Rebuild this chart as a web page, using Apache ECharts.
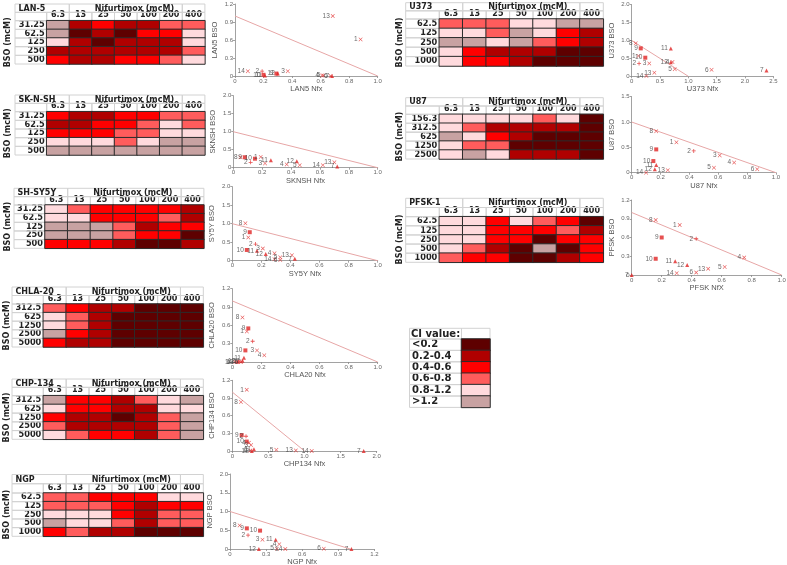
<!DOCTYPE html>
<html><head><meta charset="utf-8">
<script src="https://cdn.jsdelivr.net/npm/echarts@6/dist/echarts.min.js"></script>
<style>html,body{margin:0;padding:0;background:#fff;}#c{width:787px;height:565px;}</style>
</head><body><div id="c"></div>
<script>
// ================= DATA =================
const nfxDoses = ['6.3','13','25','50','100','200','400'];
const ciLabels = ['<0.2','0.2-0.4','0.4-0.6','0.6-0.8','0.8-1.2','>1.2'];
const ciColors = ['#5e0000','#b00000','#ff0000','#ff5c5c','#ffdadd','#c8a2a2'];

// CI class index per cell (0:<0.2 ... 5:>1.2), rows = BSO doses, cols = Nfx doses
const lan5Bso = ['31.25','62.5','125','250','500'];
const lan5CI = [[5,1,2,1,1,3,3],[5,0,1,0,2,2,4],[4,1,0,1,1,1,4],[1,1,1,1,1,1,3],[2,1,1,2,2,3,4]];
const sknshBso = ['31.25','62.5','125','250','500'];
const sknshCI = [[2,1,1,2,2,3,3],[1,1,2,2,3,4,3],[2,2,2,3,3,4,4],[4,4,4,3,4,5,5],[5,5,5,5,5,5,5]];
const shsy5yBso = ['31.25','62.5','125','250','500'];
const shsy5yCI = [[4,3,2,2,2,2,1],[4,4,2,2,2,3,1],[5,5,5,3,1,2,2],[5,5,5,3,2,2,0],[2,2,2,1,0,0,1]];
const chla20Bso = ['312.5','625','1250','2500','5000'];
const chla20CI = [[3,2,1,1,0,0,0],[4,3,1,0,0,0,0],[4,3,1,0,0,0,0],[5,2,1,0,0,0,0],[2,1,1,0,0,0,0]];
const chp134Bso = ['312.5','625','1250','2500','5000'];
const chp134CI = [[5,2,2,1,3,4,5],[4,2,2,1,1,4,4],[2,1,1,0,1,3,5],[3,1,1,1,1,3,5],[4,3,2,2,1,3,5]];
const ngpBso = ['62.5','125','250','500','1000'];
const ngpCI = [[3,3,2,2,2,4,4],[3,3,3,2,1,2,2],[4,4,4,2,1,3,3],[5,4,4,3,1,3,3],[2,3,1,1,0,0,0]];
const u373Bso = ['62.5','125','250','500','1000'];
const u373CI = [[3,3,3,4,4,5,5],[4,4,3,5,4,2,1],[5,5,4,5,3,2,1],[4,2,1,1,1,0,0],[4,2,2,1,0,0,0]];
const u87Bso = ['156.3','312.5','625','1250','2500'];
const u87CI = [[4,4,4,4,3,4,0],[4,3,1,1,1,1,0],[5,4,2,1,0,0,0],[4,3,3,0,0,0,0],[4,5,4,1,1,1,0]];
const pfskBso = ['62.5','125','250','500','1000'];
const pfskCI = [[4,4,2,4,3,2,0],[4,4,2,2,2,3,1],[4,4,2,2,0,2,2],[4,3,1,0,5,0,2],[3,2,2,0,0,1,2]];

// Isobologram points: [Nfx fraction, BSO fraction, label]
const lan5Pts = [[0.685,1.0,'13'],[0.88,0.61,'1'],[0.09,0.08,'14'],[0.19,0.08,'2'],[0.2,0.02,'10'],[0.21,0.01,'11'],[0.29,0.04,'9'],[0.3,0.04,'12'],[0.37,0.08,'3'],[0.61,0.01,'4'],[0.62,0.01,'5'],[0.67,0.0,'6'],[0.68,0.0,'7']];
const sknshPts = [[0.05,0.29,'8'],[0.08,0.29,'9'],[0.15,0.25,'10'],[0.19,0.3,'1'],[0.12,0.15,'2'],[0.22,0.12,'3'],[0.26,0.21,'11'],[0.37,0.09,'4'],[0.44,0.18,'12'],[0.46,0.07,'5'],[0.62,0.07,'14'],[0.7,0.15,'13'],[0.72,0.03,'7']];
const shsy5yPts = [[0.09,1.01,'8'],[0.12,0.77,'9'],[0.11,0.63,'1'],[0.16,0.45,'2'],[0.1,0.29,'10'],[0.17,0.27,'11'],[0.21,0.33,'3'],[0.23,0.18,'12'],[0.29,0.2,'4'],[0.29,0.04,'14'],[0.33,0.09,'5'],[0.33,0.02,'6'],[0.41,0.15,'13'],[0.43,0.05,'7']];
const chla20Pts = [[0.07,0.73,'8'],[0.11,0.55,'9'],[0.1,0.5,'1'],[0.14,0.34,'2'],[0.09,0.19,'10'],[0.17,0.19,'3'],[0.22,0.11,'4'],[0.08,0.07,'11'],[0.04,0.01,'12'],[0.03,0.0,'13'],[0.02,0.0,'14'],[0.05,0.01,'5'],[0.06,0.0,'6'],[0.07,0.02,'7']];
const chp134Pts = [[0.2,1.04,'1'],[0.12,0.83,'8'],[0.13,0.27,'9'],[0.19,0.25,'2'],[0.2,0.16,'10'],[0.26,0.1,'3'],[0.23,0.14,'4'],[0.3,0.03,'11'],[0.27,0.0,'12'],[0.25,0.01,'6'],[0.61,0.02,'5'],[0.88,0.01,'13'],[1.1,0.0,'14'],[1.82,0.0,'7']];
const ngpPts = [[0.08,0.63,'8'],[0.14,0.55,'9'],[0.25,0.49,'10'],[0.15,0.37,'2'],[0.27,0.25,'3'],[0.38,0.25,'11'],[0.41,0.13,'4'],[0.24,0.0,'12'],[0.39,0.01,'5'],[0.46,0.0,'14'],[0.78,0.01,'6'],[1.01,0.0,'7']];
const u373Pts = [[0.07,0.92,'8'],[0.16,0.78,'9'],[0.69,0.78,'11'],[0.12,0.57,'1'],[0.24,0.52,'10'],[0.13,0.36,'2'],[0.31,0.36,'3'],[0.69,0.39,'12'],[0.72,0.4,'4'],[0.76,0.2,'5'],[0.4,0.1,'13'],[0.26,0.01,'14'],[1.41,0.18,'6'],[2.38,0.16,'7']];
const u87Pts = [[0.17,0.82,'8'],[0.31,0.6,'1'],[0.17,0.46,'9'],[0.43,0.43,'2'],[0.61,0.34,'3'],[0.71,0.2,'4'],[0.87,0.07,'6'],[0.57,0.1,'5'],[0.15,0.23,'10'],[0.17,0.15,'11'],[0.16,0.07,'12'],[0.25,0.05,'13'],[0.1,0.0,'14']];
const pfskPts = [[0.16,0.88,'8'],[0.32,0.8,'1'],[0.2,0.6,'9'],[0.43,0.58,'2'],[0.75,0.28,'4'],[0.16,0.26,'10'],[0.29,0.22,'11'],[0.37,0.16,'12'],[0.62,0.13,'5'],[0.51,0.1,'13'],[0.3,0.03,'14'],[0.43,0.04,'6'],[0.0,0.0,'7']];

// ================= LAYOUT =================
const panels = [
 {name:'LAN-5', bso:lan5Bso, ci:lan5CI, bx:8,
  tbl:{L:15,X0:46.7,cw:22.6,T:4,D:20.7,rh:8.66},
  sc:{l:235,r:377.7,t:4,b:76,xmax:1,xi:0.2,ymax:1.2,yi:0.3,xn:'LAN5 Nfx',yn:'LAN5 BSO',pts:lan5Pts}},
 {name:'SK-N-SH', bso:sknshBso, ci:sknshCI, bx:8,
  tbl:{L:15,X0:46.7,cw:22.6,T:95,D:111.7,rh:8.66},
  sc:{l:233.3,r:377.7,t:95.7,b:167.7,xmax:1,xi:0.2,ymax:2,yi:0.5,xn:'SKNSH Nfx',yn:'SKNSH BSO',pts:sknshPts}},
 {name:'SH-SY5Y', bso:shsy5yBso, ci:shsy5yCI, bx:7.5,
  tbl:{L:14,X0:45,cw:22.7,T:188.3,D:205,rh:8.66},
  sc:{l:232.3,r:377.7,t:186.7,b:260.7,xmax:1,xi:0.2,ymax:2,yi:0.5,xn:'SY5Y Nfx',yn:'SY5Y BSO',pts:shsy5yPts}},
 {name:'CHLA-20', bso:chla20Bso, ci:chla20CI, bx:7,
  tbl:{L:12,X0:43.3,cw:22.86,T:287,D:304,rh:8.6},
  sc:{l:232.3,r:377.7,t:288.7,b:362,xmax:1,xi:0.2,ymax:1.2,yi:0.3,xn:'CHLA20 Nfx',yn:'CHLA20 BSO',pts:chla20Pts}},
 {name:'CHP-134', bso:chp134Bso, ci:chp134CI, bx:7,
  tbl:{L:12,X0:43.3,cw:22.86,T:379,D:395.7,rh:8.72},
  sc:{l:232.3,r:376.7,t:380.3,b:451,xmax:2,xi:0.5,ymax:1.2,yi:0.3,xn:'CHP134 Nfx',yn:'CHP134 BSO',pts:chp134Pts}},
 {name:'NGP', bso:ngpBso, ci:ngpCI, bx:7,
  tbl:{L:12,X0:43.3,cw:22.86,T:474.5,D:493,rh:8.66},
  sc:{l:230,r:374.3,t:474,b:549,xmax:1.2,xi:0.3,ymax:2,yi:0.5,xn:'NGP Nfx',yn:'NGP BSO',pts:ngpPts}},
 {name:'U373', bso:u373Bso, ci:u373CI, bx:400,
  tbl:{L:405.7,X0:439.3,cw:23.43,T:2.7,D:19,rh:9.4},
  sc:{l:631.7,r:773.3,t:4.7,b:76.3,xmax:2.5,xi:0.5,ymax:2,yi:0.5,xn:'U373 Nfx',yn:'U373 BSO',pts:u373Pts}},
 {name:'U87', bso:u87Bso, ci:u87CI, bx:400,
  tbl:{L:405.7,X0:439.3,cw:23.43,T:97.7,D:114.3,rh:8.94},
  sc:{l:631.7,r:776,t:96.7,b:172.7,xmax:1,xi:0.2,ymax:1.5,yi:0.5,xn:'U87 Nfx',yn:'U87 BSO',pts:u87Pts}},
 {name:'PFSK-1', bso:pfskBso, ci:pfskCI, bx:400,
  tbl:{L:405.7,X0:439.3,cw:23.43,T:198.3,D:216.7,rh:9.12},
  sc:{l:631.7,r:781.7,t:200,b:275,xmax:1,xi:0.2,ymax:1.2,yi:0.3,xn:'PFSK NfX',yn:'PFSK BSO',pts:pfskPts}}
];

const FONT = 'DejaVu Sans';
const SFONT = 'Liberation Sans';
const GRID = '#d2d2d2';
const grids=[], xAxes=[], yAxes=[], series=[], graphics=[], heatIdx=[];

function rect(x,y,w,h){
  graphics.push({type:'rect', silent:true, z:1, shape:{x:x,y:y,width:w,height:h},
    style:{fill:'transparent', stroke:GRID, lineWidth:1}});
}
function text(t,x,y,opts){
  graphics.push(Object.assign({type:'text', silent:true, z:5, x:x, y:y,
    style:Object.assign({text:t, fontFamily:FONT, fontWeight:'bold', fontSize:8, fill:'#222',
      align:'left', verticalAlign:'middle'}, opts && opts.style || {})}, opts && opts.el || {}));
}

function addTable(p){
  const t=p.tbl, gi=grids.length, W=7*t.cw, H=p.bso.length*t.rh;
  grids.push({left:t.X0, top:t.D, width:W, height:H, containLabel:false, outerBoundsMode:'none'});
  xAxes.push({type:'category', gridIndex:gi, position:'top', data:nfxDoses,
    axisLine:{show:false}, axisTick:{show:false}, splitLine:{show:false},
    axisLabel:{fontFamily:FONT, fontWeight:'bold', fontSize:8, color:'#222', margin:1.5, interval:0}});
  yAxes.push({type:'category', gridIndex:gi, inverse:true, data:p.bso,
    axisLine:{show:false}, axisTick:{show:false}, splitLine:{show:false},
    axisLabel:{fontFamily:FONT, fontWeight:'bold', fontSize:8.2, color:'#222', margin:2, interval:0}});
  const data=[];
  p.ci.forEach((row,r)=>row.forEach((v,c)=>data.push([c,r,v])));
  heatIdx.push(series.length);
  series.push({type:'heatmap', xAxisIndex:gi, yAxisIndex:gi, data:data, silent:true,
    itemStyle:{borderColor:'#2b2b2b', borderWidth:1}, emphasis:{disabled:true}});
  const L=t.L, T=t.T, D=t.D, h1=(D-T)/2;
  rect(L,T,t.X0+t.cw-L,h1);
  rect(t.X0+t.cw,T,5*t.cw,h1);
  rect(t.X0+6*t.cw,T,t.cw,h1);
  rect(L,T+h1,t.X0-L,D-T-h1);
  for(let c=0;c<7;c++) rect(t.X0+c*t.cw,T+h1,t.cw,D-T-h1);
  for(let r=0;r<p.bso.length;r++) rect(L,D+r*t.rh,t.X0-L,t.rh);
  text(p.name, L+3.5, T+h1/2+0.5);
  text('Nifurtimox (mcM)', t.X0+t.cw+25.5, T+h1/2+0.5);
  text('BSO (mcM)', p.bx, D+H/2, {el:{rotation:Math.PI/2}, style:{align:'center'}});
}

const tickFmt = v => v===0 ? '0' : v.toFixed(1);
const crossPath = 'path://M1,0L5,4L9,0L10,1L6,5L10,9L9,10L5,6L1,10L0,9L4,5L0,1Z';
const plusPath = 'path://M4,0H6V4H10V6H6V10H4V6H0V4H4Z';
function symbolFor(lbl){
  if(lbl==='9'||lbl==='10') return 'rect';
  if(lbl==='2') return plusPath;
  if(lbl==='11'||lbl==='12'||lbl==='7') return 'triangle';
  return crossPath;
}

function addScatter(p){
  const s=p.sc, gi=grids.length;
  grids.push({left:s.l, top:s.t, width:s.r-s.l, height:s.b-s.t, containLabel:false, outerBoundsMode:'none'});
  const axCommon = {axisLine:{show:true, onZero:false, lineStyle:{color:'#8a8a8a', width:0.8}},
    axisTick:{show:true, length:2, lineStyle:{color:'#8a8a8a', width:0.8}},
    splitLine:{show:false},
    axisLabel:{fontFamily:SFONT, fontSize:6, color:'#666', margin:2, formatter:tickFmt, showMinLabel:true, showMaxLabel:true},
    nameLocation:'middle', nameTextStyle:{fontFamily:SFONT, fontSize:7.5, color:'#555'}};
  xAxes.push(Object.assign({type:'value', gridIndex:gi, min:0, max:s.xmax, interval:s.xi, name:s.xn, nameGap:7}, axCommon));
  yAxes.push(Object.assign({type:'value', gridIndex:gi, min:0, max:s.ymax, interval:s.yi, name:s.yn, nameGap:16, nameRotate:90}, axCommon));
  series.push({type:'line', xAxisIndex:gi, yAxisIndex:gi, data:[[0,1],[1,0]], symbol:'none', silent:true,
    lineStyle:{color:'#e7a6a6', width:1}, z:2});
  series.push({type:'scatter', xAxisIndex:gi, yAxisIndex:gi, silent:true, z:3,
    data:s.pts.map(d=>({value:[d[0],d[1]], name:d[2], symbol:symbolFor(d[2])})),
    symbolSize:4, itemStyle:{color:'#e02424'},
    label:{show:true, formatter:'{b}', position:'left', distance:1, fontFamily:SFONT, fontSize:6.5, color:'#444'}});
}

panels.forEach(p=>{ addTable(p); addScatter(p); });

// ---- legend table ----
(function(){
  const gi=grids.length, lx=409.5, sx=461.5, sw=28.5, top=339, rh=11.4, hTop=328.3;
  grids.push({left:sx, top:top, width:sw, height:rh*ciLabels.length, containLabel:false, outerBoundsMode:'none'});
  xAxes.push({type:'category', gridIndex:gi, data:['CI'], show:false});
  yAxes.push({type:'category', gridIndex:gi, inverse:true, data:ciLabels,
    axisLine:{show:false}, axisTick:{show:false}, splitLine:{show:false},
    axisLabel:{fontFamily:FONT, fontWeight:'bold', fontSize:10, color:'#222', align:'left', margin:sx-lx-2.5, interval:0}});
  heatIdx.push(series.length);
  series.push({type:'heatmap', xAxisIndex:gi, yAxisIndex:gi, silent:true,
    data:ciLabels.map((_,i)=>[0,i,i]), itemStyle:{borderColor:'#2b2b2b', borderWidth:1}, emphasis:{disabled:true}});
  rect(lx,hTop,sx-lx,top-hTop); rect(sx,hTop,sw,top-hTop);
  for(let i=0;i<ciLabels.length;i++) rect(lx,top+i*rh,sx-lx,rh);
  text('CI value:', lx+1.5, (hTop+top)/2+0.5, {style:{fontSize:10}});
})();

const chart = echarts.init(document.getElementById('c'), null, {renderer:'canvas'});
chart.setOption({
  animation:false,
  backgroundColor:'#fff',
  grid:grids, xAxis:xAxes, yAxis:yAxes, series:series,
  visualMap:{type:'piecewise', show:false, seriesIndex:heatIdx, dimension:2,
    pieces:ciColors.map((c,i)=>({value:i, color:c}))},
  graphic:{elements:graphics}
});
</script>
</body></html>
